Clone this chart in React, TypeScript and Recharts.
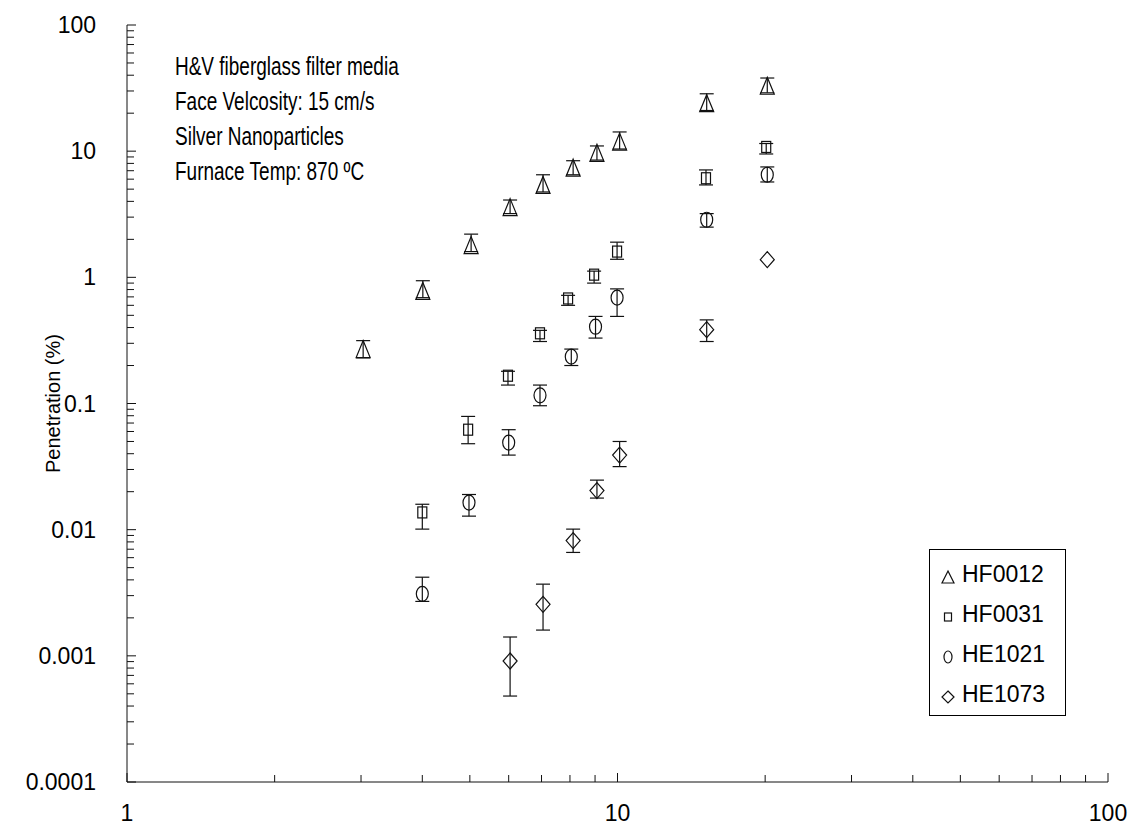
import React from 'react';
import { ScatterChart, Scatter, XAxis, YAxis, ErrorBar, Legend } from 'recharts';

const FONT = '"Liberation Sans", Arial, Helvetica, sans-serif';

// axis decades
const xMajorTicks = [1, 10, 100];
const xTickLabels = ['1', '10', '100'];
const yMajorTicks = [0.0001, 0.001, 0.01, 0.1, 1, 10, 100];
const yTickLabels = ['0.0001', '0.001', '0.01', '0.1', '1', '10', '100'];

// HF0012
const hf0012X = [3.03, 4.01, 5.03, 6.04, 7.05, 8.12, 9.08, 10.1, 15.2, 20.2];
const hf0012Y = [0.27, 0.78, 1.8, 3.6, 5.4, 7.4, 9.7, 11.9, 24, 33];
const hf0012Lo = [0.23, 0.69, 1.6, 3.2, 4.75, 6.5, 8.5, 10.4, 21, 29];
const hf0012Hi = [0.315, 0.94, 2.2, 4.1, 6.5, 8.4, 11, 14.2, 28.5, 38];

// HF0031
const hf0031X = [4.0, 4.96, 5.98, 6.95, 7.93, 8.96, 9.98, 15.15, 20.1];
const hf0031Y = [0.0137, 0.062, 0.166, 0.36, 0.68, 1.05, 1.6, 6.1, 10.8];
const hf0031Lo = [0.0101, 0.048, 0.14, 0.31, 0.6, 0.9, 1.39, 5.4, 9.5];
const hf0031Hi = [0.0159, 0.079, 0.18, 0.38, 0.72, 1.12, 1.9, 7.1, 11.5];

// HE1021
const he1021X = [4.0, 4.98, 6.0, 6.95, 8.05, 9.02, 9.98, 15.2, 20.2];
const he1021Y = [0.0031, 0.0164, 0.049, 0.116, 0.235, 0.406, 0.69, 2.86, 6.5];
const he1021Lo = [0.0027, 0.0128, 0.039, 0.096, 0.2, 0.33, 0.49, 2.5, 5.7];
const he1021Hi = [0.0042, 0.019, 0.062, 0.14, 0.27, 0.49, 0.81, 3.2, 7.5];

// HE1073
const he1073X = [6.04, 7.05, 8.12, 9.08, 10.1, 15.2, 20.2];
const he1073Y = [0.00091, 0.00256, 0.0082, 0.0204, 0.039, 0.385, 1.38];
const he1073Lo = [0.00048, 0.0016, 0.0066, 0.0178, 0.0316, 0.31, null];
const he1073Hi = [0.00141, 0.0037, 0.0101, 0.0247, 0.05, 0.46, null];

const notes = [
  'H&V fiberglass filter media',
  'Face Velcosity: 15 cm/s',
  'Silver Nanoparticles',
  'Furnace Temp: 870 ºC',
];

type Pt = { x: number; y: number; err?: [number, number] };

const build = (xs: number[], ys: number[], lo: (number | null)[], hi: (number | null)[]): Pt[] =>
  xs.map((x, i) => {
    const l = lo[i];
    const h = hi[i];
    return {
      x,
      y: ys[i],
      err: l == null || h == null ? undefined : [ys[i] - l, h - ys[i]],
    };
  });

const withMinor = (majors: number[]) =>
  majors.flatMap((m, i) => (i === majors.length - 1 ? [m] : [1, 2, 3, 4, 5, 6, 7, 8, 9].map((k) => m * k)));

const majorIndex = (majors: number[], v: number) =>
  majors.findIndex((m) => Math.abs(m - v) / m < 1e-6);

const INK = '#111';
const SW = 1.2;

const triangle = (cx: number, cy: number, w = 7, h = 8.5) => (
  <path d={`M${cx},${cy - h} L${cx + w},${cy + h} L${cx - w},${cy + h} Z`} fill="none" stroke={INK} strokeWidth={SW} />
);
const square = (cx: number, cy: number, w = 4.5, h = 5.5) => (
  <rect x={cx - w} y={cy - h} width={w * 2} height={h * 2} fill="none" stroke={INK} strokeWidth={SW} />
);
const oval = (cx: number, cy: number, rx = 6, ry = 7.5) => (
  <ellipse cx={cx} cy={cy} rx={rx} ry={ry} fill="none" stroke={INK} strokeWidth={SW} />
);
const diamond = (cx: number, cy: number, w = 7, h = 8) => (
  <path d={`M${cx},${cy - h} L${cx + w},${cy} L${cx},${cy + h} L${cx - w},${cy} Z`} fill="none" stroke={INK} strokeWidth={SW} />
);

const series = [
  { name: 'HF0012', data: build(hf0012X, hf0012Y, hf0012Lo, hf0012Hi), draw: triangle, icon: () => triangle(8, 8, 6, 6) },
  { name: 'HF0031', data: build(hf0031X, hf0031Y, hf0031Lo, hf0031Hi), draw: square, icon: () => square(8, 8, 3.5, 4) },
  { name: 'HE1021', data: build(he1021X, he1021Y, he1021Lo, he1021Hi), draw: oval, icon: () => oval(8, 8, 4, 6) },
  { name: 'HE1073', data: build(he1073X, he1073Y, he1073Lo, he1073Hi), draw: diamond, icon: () => diamond(8, 8, 6, 6) },
];

const YTick = (props: any) => {
  const { x, y, payload } = props;
  const idx = majorIndex(yMajorTicks, payload.value);
  return (
    <g>
      <line x1={x} y1={y} x2={x + (idx >= 0 ? 9 : 7)} y2={y} stroke={INK} strokeWidth={1} />
      {idx >= 0 && (
        <text x={x - 31} y={y} textAnchor="end" dominantBaseline="central" fontSize={23} fontFamily={FONT} fill="#000">
          {yTickLabels[idx]}
        </text>
      )}
    </g>
  );
};

const XTick = (props: any) => {
  const { x, y, payload } = props;
  const idx = majorIndex(xMajorTicks, payload.value);
  return (
    <g>
      <line x1={x} y1={y} x2={x} y2={y - (idx >= 0 ? 9 : 7)} stroke={INK} strokeWidth={1} />
      {idx >= 0 && (
        <text x={x} y={y + 31} textAnchor="middle" dominantBaseline="central" fontSize={23} fontFamily={FONT} fill="#000">
          {xTickLabels[idx]}
        </text>
      )}
    </g>
  );
};

const LegendBox = () => (
  <div
    style={{
      width: 137,
      height: 167,
      border: '1px solid #000',
      background: '#fff',
      fontFamily: FONT,
      fontSize: 23,
      color: '#000',
      paddingTop: 4,
      boxSizing: 'border-box',
    }}
  >
    {series.map((s) => (
      <div key={s.name} style={{ display: 'flex', alignItems: 'center', height: 40 }}>
        <svg width={16} height={16} style={{ marginLeft: 10, marginRight: 6, marginTop: 6 }}>
          {s.icon()}
        </svg>
        <span>{s.name}</span>
      </div>
    ))}
  </div>
);

export default function App() {
  return (
    <div style={{ position: 'absolute', left: 0, top: 0, background: '#fff' }}>
      <ScatterChart width={1135} height={839} margin={{ top: 25, right: 27, bottom: 0, left: 0 }}>
        <XAxis
          dataKey="x"
          type="number"
          scale="log"
          domain={[1, 100]}
          allowDataOverflow
          ticks={withMinor(xMajorTicks)}
          interval={0}
          tick={<XTick />}
          tickLine={false}
          tickSize={0}
          tickMargin={0}
          height={57}
          stroke={INK}
        />
        <XAxis
          xAxisId="top"
          orientation="top"
          type="number"
          scale="log"
          domain={[1, 100]}
          allowDataOverflow
          tick={false}
          tickLine={false}
          height={0}
          stroke="#8a8a8a"
        />
        <YAxis
          dataKey="y"
          type="number"
          scale="log"
          domain={[0.0001, 100]}
          allowDataOverflow
          ticks={withMinor(yMajorTicks)}
          interval={0}
          tick={<YTick />}
          tickLine={false}
          tickSize={0}
          tickMargin={0}
          width={127}
          stroke={INK}
          label={{ value: 'Penetration (%)', angle: -90, position: 'center', dx: -11, fontSize: 20, fontFamily: FONT, fill: '#000' }}
        />
        <YAxis
          yAxisId="right"
          orientation="right"
          type="number"
          scale="log"
          domain={[0.0001, 100]}
          allowDataOverflow
          tick={false}
          tickLine={false}
          width={0}
          stroke="#8a8a8a"
        />
        {series.map((s) => (
          <Scatter
            key={s.name}
            name={s.name}
            data={s.data}
            isAnimationActive={false}
            shape={(p: any) => s.draw(p.cx, p.cy)}
          >
            <ErrorBar dataKey="err" direction="y" width={7} stroke={INK} strokeWidth={SW} isAnimationActive={false} />
          </Scatter>
        ))}
        <Legend
          layout="vertical"
          align="center"
          verticalAlign="middle"
          content={<LegendBox />}
          wrapperStyle={{ left: 929, top: 549, width: 137, height: 167 }}
        />
        <g fontFamily={FONT} fontSize={25} fill="#000">
          {notes.map((t, i) => (
            <text key={t} transform={`translate(175, ${75 + i * 35}) scale(0.76, 1)`}>
              {t}
            </text>
          ))}
        </g>
      </ScatterChart>
    </div>
  );
}
